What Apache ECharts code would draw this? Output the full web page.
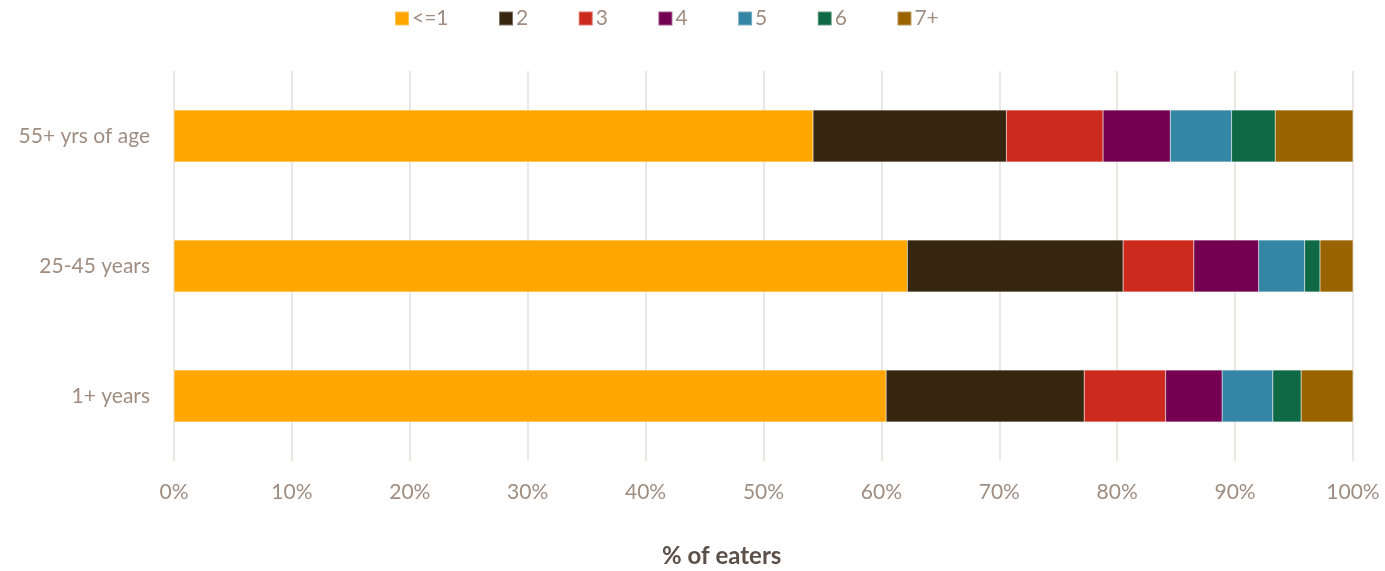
<!DOCTYPE html>
<html>
<head>
<meta charset="utf-8">
<script src="https://cdn.jsdelivr.net/npm/echarts@6/dist/echarts.min.js"></script>
<style>
html,body{margin:0;padding:0;background:#fff;}
#chart{width:1385px;height:571px;}
</style>
</head>
<body>
<div id="chart"></div>
<script>
var categories = ['1+ years', '25-45 years', '55+ yrs of age'];
var seriesNames = ['<=1', '2', '3', '4', '5', '6', '7+'];
var s1 = [60.4, 62.2, 54.2];
var s2 = [16.8, 18.3, 16.4];
var s3 = [6.9, 6.0, 8.2];
var s4 = [4.8, 5.5, 5.7];
var s5 = [4.3, 3.9, 5.2];
var s6 = [2.4, 1.3, 3.7];
var s7 = [4.4, 2.8, 6.6];
var tickLabels = ['0%','10%','20%','30%','40%','50%','60%','70%','80%','90%','100%'];
var colors = ['#FFA600', '#37260F', '#CC2A1C', '#730050', '#3585A5', '#0E6944', '#996300'];

var values = [s1, s2, s3, s4, s5, s6, s7];
var textColor = '#A08D80';
var font = 'Lato';

var series = seriesNames.map(function (n, i) {
  return {
    name: n,
    type: 'bar',
    stack: 'total',
    barWidth: '40%',
    data: values[i],
    itemStyle: { color: colors[i], borderColor: 'rgba(255,255,255,0.35)', borderWidth: 0.5 }
  };
});

var chart = echarts.init(document.getElementById('chart'), null, { renderer: 'canvas' });
chart.setOption({
  animation: false,
  color: colors,
  legend: {
    top: 3,
    left: 389,
    itemWidth: 14,
    itemHeight: 14,
    itemGap: 49.5,
    icon: 'rect',
    textStyle: { color: textColor, fontSize: 21, fontFamily: font, padding: [0, 0, 0, -2] },
    data: seriesNames
  },
  grid: { left: 174, right: 32, top: 71, bottom: 110, containLabel: false },
  xAxis: {
    type: 'value',
    min: 0,
    max: 100,
    interval: 10,
    axisLine: { show: false },
    axisTick: { show: false },
    splitLine: { show: true, lineStyle: { color: '#E4DFDC', width: 1.5 } },
    axisLabel: {
      color: textColor, fontSize: 21, fontFamily: font, margin: 21,
      formatter: function (v) { return tickLabels[Math.round(v / 10)]; }
    }
  },
  yAxis: {
    type: 'category',
    data: categories,
    axisLine: { show: false },
    axisTick: { show: false },
    axisLabel: { color: textColor, fontSize: 21, fontFamily: font, margin: 24 }
  },
  graphic: [{
    type: 'text',
    left: 662,
    top: 544,
    style: { text: '% of eaters', fill: '#5B4F47', font: 'bold 24px Lato' }
  }],
  series: series
});
</script>
</body>
</html>
